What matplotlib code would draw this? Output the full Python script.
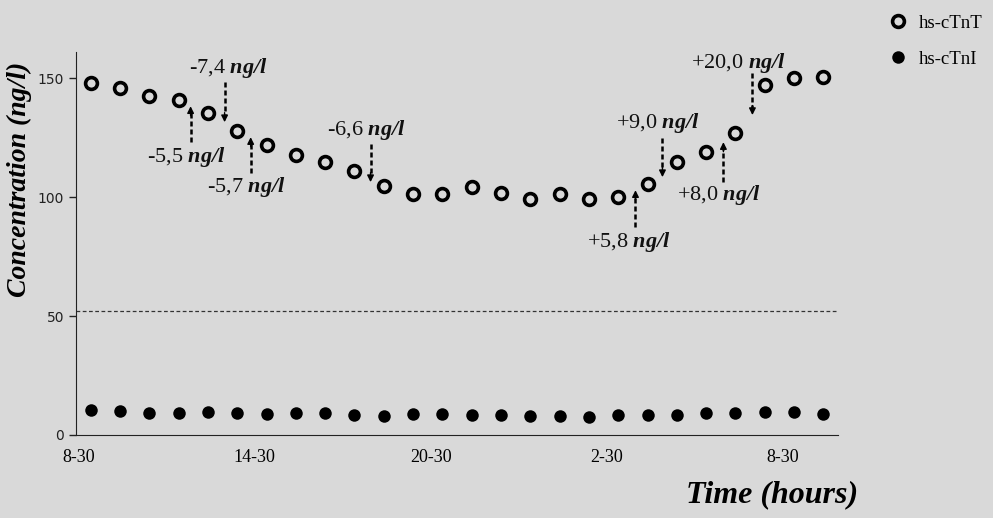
import matplotlib
matplotlib.use("Agg")
import matplotlib.pyplot as plt
from matplotlib.lines import Line2D

# hourly samples from 8-30 to 9-30 next day
hours = list(range(26))
tnt = [147.8, 146.0, 142.4, 140.8, 135.2, 127.7, 122.1, 117.9, 114.7, 111.1,
       104.6, 101.5, 101.5, 104.1, 101.8, 99.2, 101.3, 99.4, 100.1, 105.7,
       114.6, 118.8, 126.8, 147.1, 149.9, 150.6]
tni = [10.5, 10.2, 9.1, 9.1, 9.5, 9.4, 8.7, 9.4, 9.1, 8.3,
       8.0, 8.7, 8.8, 8.4, 8.3, 8.1, 8.0, 7.7, 8.4, 8.3,
       8.4, 9.1, 9.1, 9.8, 9.5, 9.0]
tick_hours = [0, 6, 12, 18, 24]
tick_labels = ["8-30", "14-30", "20-30", "2-30", "8-30"]
cutoff = 52

# (label, text x, text y, arrow x, arrow start y, arrow tip y)
changes = [
    ("-7,4", 4.71, 154.2, 4.57, 148.3, 131.5),
    ("-5,5", 3.27, 116.8, 3.41, 123.1, 138.2),
    ("-5,7", 5.32, 104.2, 5.46, 110.1, 125.2),
    ("-6,6", 9.41, 128.2, 9.55, 122.3, 106.3),
    ("+5,8", 18.35, 81.1, 18.59, 87.4, 102.9),
    ("+9,0", 19.34, 131.1, 19.51, 124.8, 108.4),
    ("+8,0", 21.45, 100.8, 21.59, 106.3, 123.1),
    ("+20,0", 22.1, 156.3, 22.58, 152.1, 134.5),
]

plt.rcParams['mathtext.fontset'] = 'custom'
plt.rcParams['mathtext.rm'] = 'Liberation Serif'
plt.rcParams['mathtext.bfit'] = 'Liberation Serif:italic:bold'

bg = '#d9d9d9'
fig = plt.figure(figsize=(9.93, 5.18), dpi=100, facecolor=bg)
ax = fig.add_axes([76/993, 83/518, (838-76)/993, (435-52)/518])
ax.set_facecolor(bg)

ax.plot(hours, tnt, 'o', ms=8.5, mfc=bg, mec='black', mew=2.6, label='hs-cTnT', zorder=3)
ax.plot(hours, tni, 'o', ms=9, mfc='black', mec='black', mew=0, label='hs-cTnI', zorder=3)
ax.axhline(cutoff, color='#333333', lw=0.9, ls=(0, (3, 2)))

ax.set_xlim(-0.5, 25.5)
ax.set_ylim(0, 161)
ax.set_yticks([0, 50, 100, 150])
ax.tick_params(axis='y', length=5, width=1, labelsize=10, colors='#222222')
ax.set_xticks([h - 0.4 for h in tick_hours])
ax.set_xticklabels(tick_labels, family='Liberation Serif', fontsize=13)
ax.tick_params(axis='x', length=0, pad=10)
for s in ['top', 'right']:
    ax.spines[s].set_visible(False)
for s in ['left', 'bottom']:
    ax.spines[s].set_color('#222222')

for lab, tx, ty, axx, y0, y1 in changes:
    ax.text(tx, ty, lab + r" $\mathbfit{ng/l}$", family='Liberation Serif',
            fontsize=16, ha='center', va='center', color='#111111')
    sign = 1 if y1 > y0 else -1
    ax.plot([axx, axx], [y0, y1 - sign * 3], color='black', lw=1.8,
            ls=(0, (2, 1.2)))
    ax.annotate('', xy=(axx, y1), xytext=(axx, y1 - sign * 4),
                arrowprops=dict(arrowstyle='-|>', color='black', lw=1,
                                mutation_scale=10, shrinkA=0, shrinkB=0))

fig.text(19/993, 1 - 179/518, "Concentration (ng/l)", rotation=90,
         family='Liberation Serif', style='italic', weight='bold',
         fontsize=20, ha='center', va='center')
fig.text(772/993, 1 - 495/518, "Time (hours)", family='Liberation Serif',
         style='italic', weight='bold', fontsize=23, ha='center', va='center')

handles = [Line2D([], [], ls='none', marker='o', ms=8.5, mfc=bg, mec='black', mew=2.6),
           Line2D([], [], ls='none', marker='o', ms=9, mfc='black', mec='black', mew=0)]
fig.legend(handles, ['hs-cTnT', 'hs-cTnI'], loc='upper left',
           bbox_to_anchor=(870/993, 1 + 2/518), frameon=False,
           prop={'family': 'Liberation Serif', 'size': 13.5},
           labelspacing=1.0, handletextpad=0.5, handlelength=1.2)

fig.savefig('out.png', dpi=100, facecolor=bg)
